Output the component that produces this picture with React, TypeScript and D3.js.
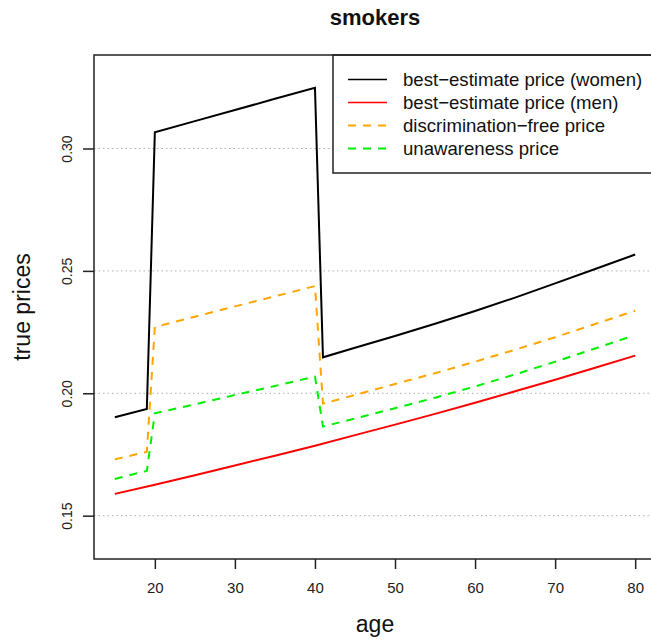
import React, { useRef, useEffect } from 'react';
import * as d3 from 'd3';

const agesMain = [15, 19, 20, 25, 30, 35, 40, 41, 45, 50, 55, 60, 65, 70, 75, 80];
const agesMen = [15, 20, 25, 30, 35, 40, 45, 50, 55, 60, 65, 70, 75, 80];
const agesUnaware = [15, 19, 20, 25, 30, 35, 40, 41, 45, 50, 55, 60, 65, 70, 75, 79];

const womenPrice = [0.1902, 0.1936, 0.3066, 0.3112, 0.3157, 0.3203, 0.3248, 0.2147, 0.2186, 0.2234, 0.2284, 0.2336, 0.2391, 0.2449, 0.2508, 0.2567];
const menPrice = [0.1589, 0.1626, 0.1665, 0.1705, 0.1745, 0.1786, 0.1829, 0.1872, 0.1916, 0.1961, 0.2008, 0.2055, 0.2104, 0.2154];
const discFreePrice = [0.173, 0.1761, 0.2271, 0.2313, 0.2355, 0.2396, 0.2438, 0.1958, 0.1993, 0.2038, 0.2082, 0.2129, 0.2178, 0.2229, 0.2283, 0.2337];
const unawarePrice = [0.165, 0.1683, 0.1918, 0.1955, 0.1993, 0.2030, 0.2068, 0.1864, 0.1897, 0.1939, 0.1982, 0.2028, 0.2077, 0.2129, 0.2183, 0.2227];

const xTicks = [20, 30, 40, 50, 60, 70, 80];
const yTicks = [0.15, 0.2, 0.25, 0.3];

const legendLabels = [
  'best\u2212estimate price (women)',
  'best\u2212estimate price (men)',
  'discrimination\u2212free price',
  'unawareness price',
];

const FONT = '"Liberation Sans", Arial, Helvetica, sans-serif';

const App = () => {
  const svgRef = useRef(null);

  useEffect(() => {
    const svg = d3.select(svgRef.current);
    svg.selectAll('*').remove();

    const W = 651;
    const H = 641;
    const left = 94, right = 656, top = 55, bottom = 559;

    const x = d3.scaleLinear().domain([12.4, 82.6]).range([left, right]);
    const y = d3.scaleLinear().domain([0.1323, 0.3382]).range([bottom, top]);

    svg.append('rect').attr('width', W).attr('height', H).attr('fill', '#fff');

    // horizontal dotted grid
    svg.append('g')
      .selectAll('line')
      .data(yTicks)
      .enter()
      .append('line')
      .attr('x1', left)
      .attr('x2', right)
      .attr('y1', d => y(d))
      .attr('y2', d => y(d))
      .attr('stroke', '#b0b0b0')
      .attr('stroke-width', 1)
      .attr('stroke-dasharray', '1.5,3');

    const series = [
      { ages: agesMain, vals: womenPrice, color: '#000000', dash: null },
      { ages: agesMen, vals: menPrice, color: '#ff0000', dash: null },
      { ages: agesMain, vals: discFreePrice, color: '#ffa500', dash: '8,7' },
      { ages: agesUnaware, vals: unawarePrice, color: '#00f000', dash: '8,7' },
    ];

    const line = d3.line()
      .x(d => x(d[0]))
      .y(d => y(d[1]));

    // draw back to front like R: the later series on top
    series.forEach(s => {
      const pts = s.ages.map((a, i) => [a, s.vals[i]]);
      svg.append('path')
        .datum(pts)
        .attr('fill', 'none')
        .attr('stroke', s.color)
        .attr('stroke-width', 2)
        .attr('stroke-linejoin', 'miter')
        .attr('stroke-dasharray', s.dash)
        .attr('d', line);
    });

    // legend
    const lg = svg.append('g');
    lg.append('rect')
      .attr('x', 333)
      .attr('y', top)
      .attr('width', right - 333)
      .attr('height', 118)
      .attr('fill', '#fff')
      .attr('stroke', '#222')
      .attr('stroke-width', 1.5);

    const rows = lg.selectAll('g.row')
      .data(legendLabels)
      .enter()
      .append('g')
      .attr('class', 'row')
      .attr('transform', (d, i) => `translate(0,${79.5 + i * 23})`);

    rows.append('line')
      .attr('x1', 348)
      .attr('x2', 387)
      .attr('y1', 0)
      .attr('y2', 0)
      .attr('stroke', (d, i) => series[i].color)
      .attr('stroke-width', (d, i) => (i < 2 ? 1.3 : 2))
      .attr('stroke-dasharray', (d, i) => series[i].dash);

    rows.append('text')
      .attr('x', 403)
      .attr('y', 6)
      .attr('font-family', FONT)
      .attr('font-size', 18.6)
      .attr('fill', '#111')
      .text(d => d);

    // frame
    svg.append('rect')
      .attr('x', left)
      .attr('y', top)
      .attr('width', right - left)
      .attr('height', bottom - top)
      .attr('fill', 'none')
      .attr('stroke', '#222')
      .attr('stroke-width', 1.5);

    // x axis
    const xa = svg.append('g').attr('transform', `translate(0,${bottom})`);
    xa.call(d3.axisBottom(x).tickValues(xTicks).tickSize(10).tickPadding(13).tickFormat(d3.format('d')));
    xa.select('.domain').remove();
    xa.selectAll('line').attr('stroke', '#222').attr('stroke-width', 1.5);
    xa.selectAll('text')
      .attr('font-family', FONT)
      .attr('font-size', 15)
      .attr('fill', '#222');

    // y axis
    const ya = svg.append('g').attr('transform', `translate(${left},0)`);
    ya.call(d3.axisLeft(y).tickValues(yTicks).tickSize(11).tickFormat(d3.format('.2f')));
    ya.select('.domain').remove();
    ya.selectAll('line').attr('stroke', '#222').attr('stroke-width', 1.5);
    ya.selectAll('text')
      .attr('font-family', FONT)
      .attr('font-size', 14)
      .attr('fill', '#222')
      .attr('x', null)
      .attr('dy', null)
      .attr('text-anchor', 'middle')
      .attr('transform', 'translate(-22,0) rotate(-90)');

    // titles
    svg.append('text')
      .attr('x', (left + right) / 2)
      .attr('y', 25)
      .attr('text-anchor', 'middle')
      .attr('font-family', FONT)
      .attr('font-weight', 'bold')
      .attr('font-size', 22)
      .attr('fill', '#111')
      .text('smokers');

    svg.append('text')
      .attr('x', (left + right) / 2)
      .attr('y', 632)
      .attr('text-anchor', 'middle')
      .attr('font-family', FONT)
      .attr('font-size', 23)
      .attr('fill', '#111')
      .text('age');

    svg.append('text')
      .attr('transform', `translate(30,${(top + bottom) / 2}) rotate(-90)`)
      .attr('text-anchor', 'middle')
      .attr('font-family', FONT)
      .attr('font-size', 23)
      .attr('fill', '#111')
      .text('true prices');
  }, []);

  return (
    <svg
      ref={svgRef}
      width={651}
      height={641}
      style={{ position: 'absolute', left: 0, top: 0, display: 'block' }}
    />
  );
};

export default App;
